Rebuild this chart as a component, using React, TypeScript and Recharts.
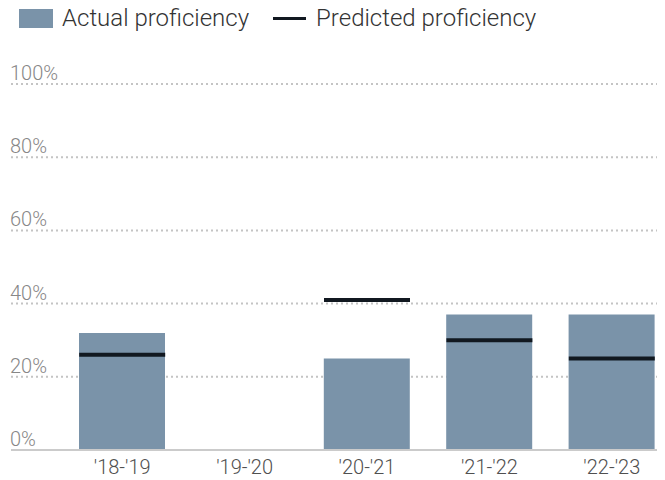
import React from 'react';
import {
  ComposedChart,
  Bar,
  Scatter,
  XAxis,
  YAxis,
  CartesianGrid,
} from 'recharts';

const seasons = ["'18-'19", "'19-'20", "'20-'21", "'21-'22", "'22-'23"];
const actual = [32, null, 25, 37, 37];
const predicted = [26, null, 41, 30, 25];
const yTicks = [0, 20, 40, 60, 80, 100];

const BAR_COLOR = '#7a93a9';
const LINE_COLOR = '#111820';
const BAR_SIZE = 86;
const FONT = 'Roboto, "Noto Sans", sans-serif';

const data = seasons.map((season, i) => ({
  season,
  actual: actual[i],
  predicted: predicted[i],
}));

// horizontal marker spanning the bar width at the predicted value
const PredictedMark = (props: any) => {
  const { cx, cy, payload } = props;
  if (payload == null || payload.predicted == null || !isFinite(cy)) return null;
  return (
    <line
      x1={cx - BAR_SIZE / 2}
      x2={cx + BAR_SIZE / 2}
      y1={cy}
      y2={cy}
      stroke={LINE_COLOR}
      strokeWidth={4}
    />
  );
};

// percent labels sit left-aligned just above each gridline
const renderYTick = (props: any) => {
  const { y, payload } = props;
  return (
    <text
      key={payload.value}
      x={10}
      y={y - 4}
      textAnchor="start"
      fill="#878787"
      fontSize={20}
      fontFamily={FONT}
      fontWeight={300}
    >
      {`${payload.value}%`}
    </text>
  );
};

const Legend = () => (
  <div
    style={{
      position: 'absolute',
      top: 0,
      left: 0,
      height: 36,
      display: 'flex',
      alignItems: 'center',
      fontFamily: FONT,
      fontWeight: 300,
      fontSize: 24,
      color: '#333',
    }}
  >
    <span style={{ display: 'inline-block', width: 34, height: 19, background: BAR_COLOR, marginLeft: 19, marginRight: 9 }} />
    <span>Actual proficiency</span>
    <span style={{ display: 'inline-block', width: 33, height: 3, background: LINE_COLOR, marginLeft: 24, marginRight: 10 }} />
    <span>Predicted proficiency</span>
  </div>
);

const ProficiencyChart = () => {
  return (
    <div
      style={{
        margin: '-8px 0 0 -8px',
        width: 665,
        height: 480,
        overflow: 'hidden',
        position: 'relative',
        background: '#fff',
      }}
    >
      <ComposedChart
        width={673}
        height={480}
        data={data}
        margin={{ top: 84, right: 0, left: 10, bottom: 0 }}
      >
        <CartesianGrid vertical={false} stroke="#c4c4c4" strokeWidth={2} strokeDasharray="2 3" />
        <XAxis
          dataKey="season"
          height={30}
          padding={{ left: 50, right: 0 }}
          tickLine={false}
          axisLine={{ stroke: '#cbcbcb', strokeWidth: 2 }}
          tick={{ fill: '#505050', fontSize: 20, fontFamily: FONT, fontWeight: 300 }}
          tickMargin={4}
        />
        <YAxis
          width={1}
          domain={[0, 100]}
          ticks={yTicks}
          axisLine={false}
          tickLine={false}
          tick={renderYTick}
        />
        <Bar dataKey="actual" fill={BAR_COLOR} barSize={BAR_SIZE} isAnimationActive={false} />
        <Scatter dataKey="predicted" shape={<PredictedMark />} isAnimationActive={false} />
      </ComposedChart>
      <Legend />
    </div>
  );
};

export default function App() {
  return <ProficiencyChart />;
}
